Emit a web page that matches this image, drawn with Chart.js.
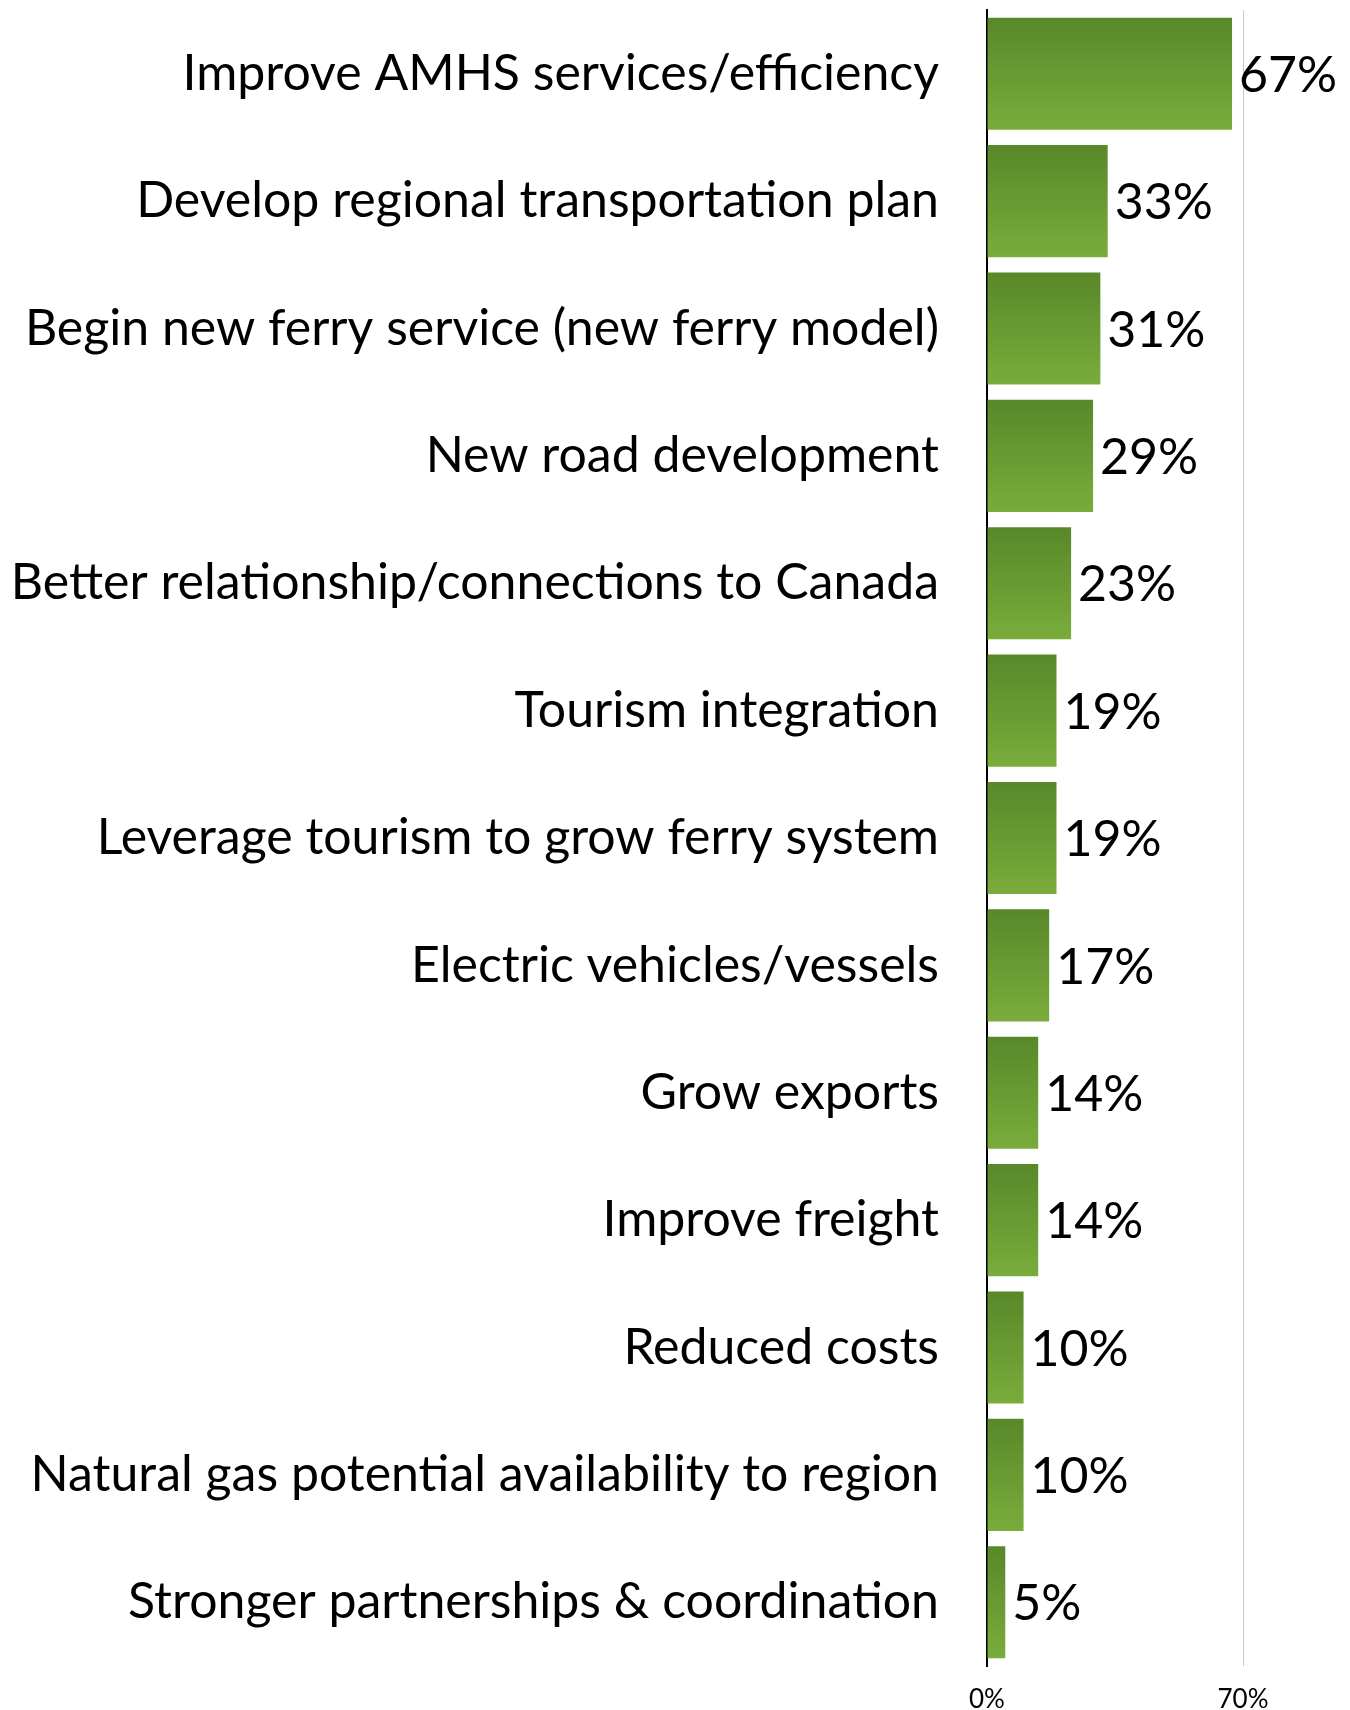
<!DOCTYPE html>
<html>
<head>
<meta charset="utf-8">
<script src="https://cdn.jsdelivr.net/npm/chart.js@4"></script>
<style>
  html, body { margin: 0; padding: 0; background: #fff; }
  #wrap { width: 1350px; height: 1710px; }
</style>
</head>
<body>
<div id="wrap"><canvas id="grafico"></canvas></div>
<script>
const categorias = [
    "Improve AMHS services/efficiency",
    "Develop regional transportation plan",
    "Begin new ferry service (new ferry model)",
    "New road development",
    "Better relationship/connections to Canada",
    "Tourism integration",
    "Leverage tourism to grow ferry system",
    "Electric vehicles/vessels",
    "Grow exports",
    "Improve freight",
    "Reduced costs",
    "Natural gas potential availability to region",
    "Stronger partnerships & coordination"
];
const porcentajes = [67, 33, 31, 29, 23, 19, 19, 17, 14, 14, 10, 10, 5];
const ticksEje = [0, 70];

const fuente = "Lato, 'Noto Sans', sans-serif";
const ctx = document.getElementById("grafico");

// degradado vertical en cada barra, oscuro arriba y claro abajo
function colorBarra(c) {
    const chart = c.chart;
    const y = chart.scales.y;
    if (!y || c.dataIndex === undefined) return "#6a9b33";
    const centro = y.getPixelForValue(c.dataIndex);
    if (!isFinite(centro)) return "#6a9b33";
    const mitad = 56;
    const g = chart.ctx.createLinearGradient(0, centro - mitad, 0, centro + mitad);
    g.addColorStop(0, "#588829");
    g.addColorStop(1, "#7aac3c");
    return g;
}

// etiqueta con el porcentaje al final de cada barra
const etiquetas = {
    id: "etiquetas",
    afterDatasetsDraw(chart) {
        const c = chart.ctx;
        const meta = chart.getDatasetMeta(0);
        c.save();
        c.font = "50px " + fuente;
        c.fillStyle = "#000";
        c.textAlign = "left";
        c.textBaseline = "middle";
        meta.data.forEach((bar, i) => {
            c.fillText(porcentajes[i] + "%", bar.x + 7, bar.y + 2);
        });
        c.restore();
    }
};

new Chart(ctx, {
    type: "bar",
    data: {
        labels: categorias,
        datasets: [{
            data: porcentajes,
            backgroundColor: colorBarra,
            borderWidth: 0,
            categoryPercentage: 1,
            barPercentage: 0.88
        }]
    },
    options: {
        indexAxis: "y",
        responsive: true,
        maintainAspectRatio: false,
        animation: false,
        layout: { padding: { top: 10, right: 107, left: 0, bottom: 0 } },
        plugins: { legend: { display: false }, tooltip: { enabled: false } },
        scales: {
            y: {
                grid: { display: false },
                border: { display: true, color: "#000", width: 2 },
                ticks: {
                    color: "#000",
                    padding: 40,
                    font: { family: fuente, size: 50 }
                },
                afterFit(scale) {
                    scale.width = 987;
                    scale.paddingTop = 0;
                    scale.paddingBottom = 0;
                }
            },
            x: {
                min: 0,
                max: 70,
                afterBuildTicks(scale) {
                    scale.ticks = ticksEje.map(v => ({ value: v }));
                },
                grid: {
                    drawTicks: false,
                    color: c => (c.tick && c.tick.value === 0) ? "rgba(0,0,0,0)" : "#c8c8c8",
                    lineWidth: 1
                },
                border: { display: false },
                ticks: {
                    color: "#000",
                    padding: 18,
                    font: { family: fuente, size: 26 },
                    callback: v => v + "%"
                },
                afterFit(scale) {
                    scale.height = 44;
                    scale.paddingLeft = 0;
                    scale.paddingRight = 0;
                }
            }
        }
    },
    plugins: [etiquetas]
});
</script>
</body>
</html>
